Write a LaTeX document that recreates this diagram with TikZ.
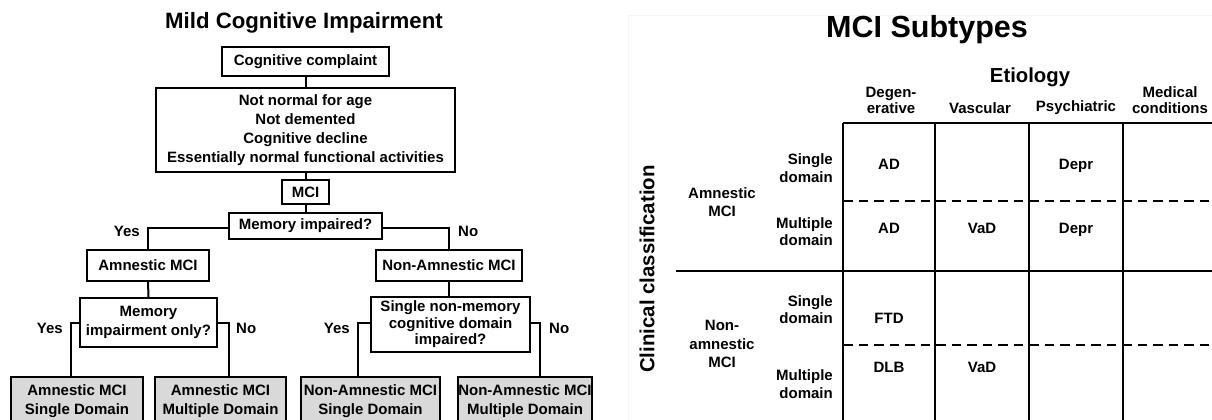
\documentclass[tikz,border=0pt]{standalone}
\usepackage{fontspec}
\setmainfont{Liberation Sans}
\begin{document}
\begin{tikzpicture}[x=1pt,y=-1pt,
  every node/.style={font=\bfseries\fontsize{15}{19}\selectfont, inner sep=0pt, align=center},
  fbox/.style={draw, line width=2pt, fill=white, text=black},
  leaf/.style={fbox, fill=black!15},
  conn/.style={line width=2pt},
  lbl/.style={font=\bfseries\fontsize{15}{19}\selectfont},
  tline/.style={line width=2.6pt},
  tdash/.style={line width=2.6pt, dash pattern=on 9.5pt off 6pt},
  hdr/.style={font=\bfseries\fontsize{15}{16}\selectfont},
  rowlbl/.style={font=\bfseries\fontsize{15}{17.5}\selectfont, align=right, anchor=east},
  grp/.style={font=\bfseries\fontsize{15}{18.5}\selectfont},
  cell/.style={font=\bfseries\fontsize{15}{18}\selectfont}
]
\useasboundingbox (0,0) rectangle (1212,420);
\clip (0,0) rectangle (1212,420);
\fill[white] (0,0) rectangle (1212,420);

% ---------------- Left panel ----------------
\node (t1) at (304,23) {\fontsize{22.2}{26}\selectfont Mild Cognitive Impairment};

\node[fbox, minimum width=167pt, minimum height=29pt] (cc) at (305.5,61.5) {Cognitive complaint};
\node[fbox, minimum width=299pt, minimum height=84pt, font=\bfseries\fontsize{15}{18.8}\selectfont] (crit) at (305.5,130)
  {Not normal for age\\Not demented\\Cognitive decline\\Essentially normal functional activities};
\node[fbox, minimum width=47pt, minimum height=24pt] (mci) at (305.5,192) {MCI};
\node[fbox, minimum width=153pt, minimum height=26pt] (mem) at (305.5,226) {Memory impaired?};
\node[fbox, minimum width=122pt, minimum height=31pt] (amn) at (148,265.5) {Amnestic MCI};
\node[fbox, minimum width=146pt, minimum height=31pt] (namn) at (449,265.5) {Non-Amnestic MCI};
\node[fbox, minimum width=137pt, minimum height=49pt] (memonly) at (148.5,322.5) {Memory\\impairment only?};
\node[fbox, minimum width=159pt, minimum height=55pt, font=\bfseries\fontsize{15}{16.5}\selectfont] (single) at (450.5,324.5)
  {Single non-memory\\cognitive domain\\impaired?};

\node[leaf, minimum width=132pt, minimum height=49pt] (l1) at (77,401.5) {Amnestic MCI\\Single Domain};
\node[leaf, minimum width=131pt, minimum height=49pt] (l2) at (220.5,401.5) {Amnestic MCI\\Multiple Domain};
\node[leaf, minimum width=139pt, minimum height=49pt] (l3) at (370.5,401.5) {Non-Amnestic MCI\\Single Domain};
\node[leaf, minimum width=134pt, minimum height=49pt] (l4) at (525,401.5) {Non-Amnestic MCI\\Multiple Domain};

\coordinate (c1) at (148,228);
\coordinate (c2) at (449,228);
\coordinate (c3) at (71,323);
\coordinate (c4) at (229,323);
\coordinate (c5) at (358,323);
\coordinate (c6) at (540,323);

\draw[conn] (cc.south) -- (crit.north);
\draw[conn] (crit.south) -- (mci.north);
\draw[conn] (mci.south) -- (mem.north);
\draw[conn] (mem.west |- c1) -- (c1) -- (amn.north);
\draw[conn] (mem.east |- c2) -- (c2) -- (namn.north);
\draw[conn] (amn.south) -- (memonly.north);
\draw[conn] (namn.south) -- (namn.south |- single.north);
\draw[conn] (memonly.west |- c3) -- (c3) -- (c3 |- l1.north);
\draw[conn] (memonly.east |- c4) -- (c4) -- (c4 |- l2.north);
\draw[conn] (single.west |- c5) -- (c5) -- (c5 |- l3.north);
\draw[conn] (single.east |- c6) -- (c6) -- (c6 |- l4.north);

\node[lbl, anchor=east] (y1) at (140,231) {Yes};
\node[lbl, anchor=west] (n1) at (458,231) {No};
\node[lbl, anchor=east] (y2) at (63,328) {Yes};
\node[lbl, anchor=west] (n2) at (236,328) {No};
\node[lbl, anchor=east] (y3) at (350,328) {Yes};
\node[lbl, anchor=west] (n3) at (549,328) {No};

% ---------------- Right panel ----------------
\draw[black!4, line width=0.8pt] (628,440) -- (628,15) -- (1230,15);

\node (t2) at (927,30) {\fontsize{30.5}{34}\selectfont MCI Subtypes};
\node (etio) at (1030,77) {\fontsize{20.3}{24}\selectfont Etiology};

\node[hdr] (h1) at (891,100) {Degen-\\erative};
\node[hdr] (h2) at (980,108) {Vascular};
\node[hdr] (h3) at (1076,108) {Psychiatric};
\node[hdr] (h4) at (1170,100) {Medical\\conditions};

% table lines
\draw[tline] (843,123) -- (1225,123);
\foreach \xx in {843,935,1029,1123} { \draw[tline] (\xx,123) -- (\xx,425); }
\draw[tdash] (843,201) -- (1225,201);
\draw[tline] (676,271) -- (1225,271);
\draw[tdash] (843,345) -- (1225,345);

\node (cls) at (647,269) [rotate=90] {\fontsize{20.4}{24}\selectfont Clinical classification};

\node[grp] (g1) at (722,202) {Amnestic\\MCI};
\node[grp] (g2) at (722,344) {Non-\\amnestic\\MCI};

\node[rowlbl] (r1) at (833,168) {Single\\domain};
\node[rowlbl] (r2) at (833,231.5) {Multiple\\domain};
\node[rowlbl] (r3) at (833,309.5) {Single\\domain};
\node[rowlbl] (r4) at (833,384) {Multiple\\domain};

\node[cell, anchor=base] (a1) at (889,169) {AD};
\node[cell, anchor=base] (a2) at (1076,169) {Depr};
\node[cell, anchor=base] (a3) at (889,233) {AD};
\node[cell, anchor=base] (a4) at (982,233) {VaD};
\node[cell, anchor=base] (a5) at (1076,233) {Depr};
\node[cell, anchor=base] (a6) at (889,323) {FTD};
\node[cell, anchor=base] (a7) at (889,372) {DLB};
\node[cell, anchor=base] (a8) at (982,372) {VaD};
\end{tikzpicture}
\end{document}
